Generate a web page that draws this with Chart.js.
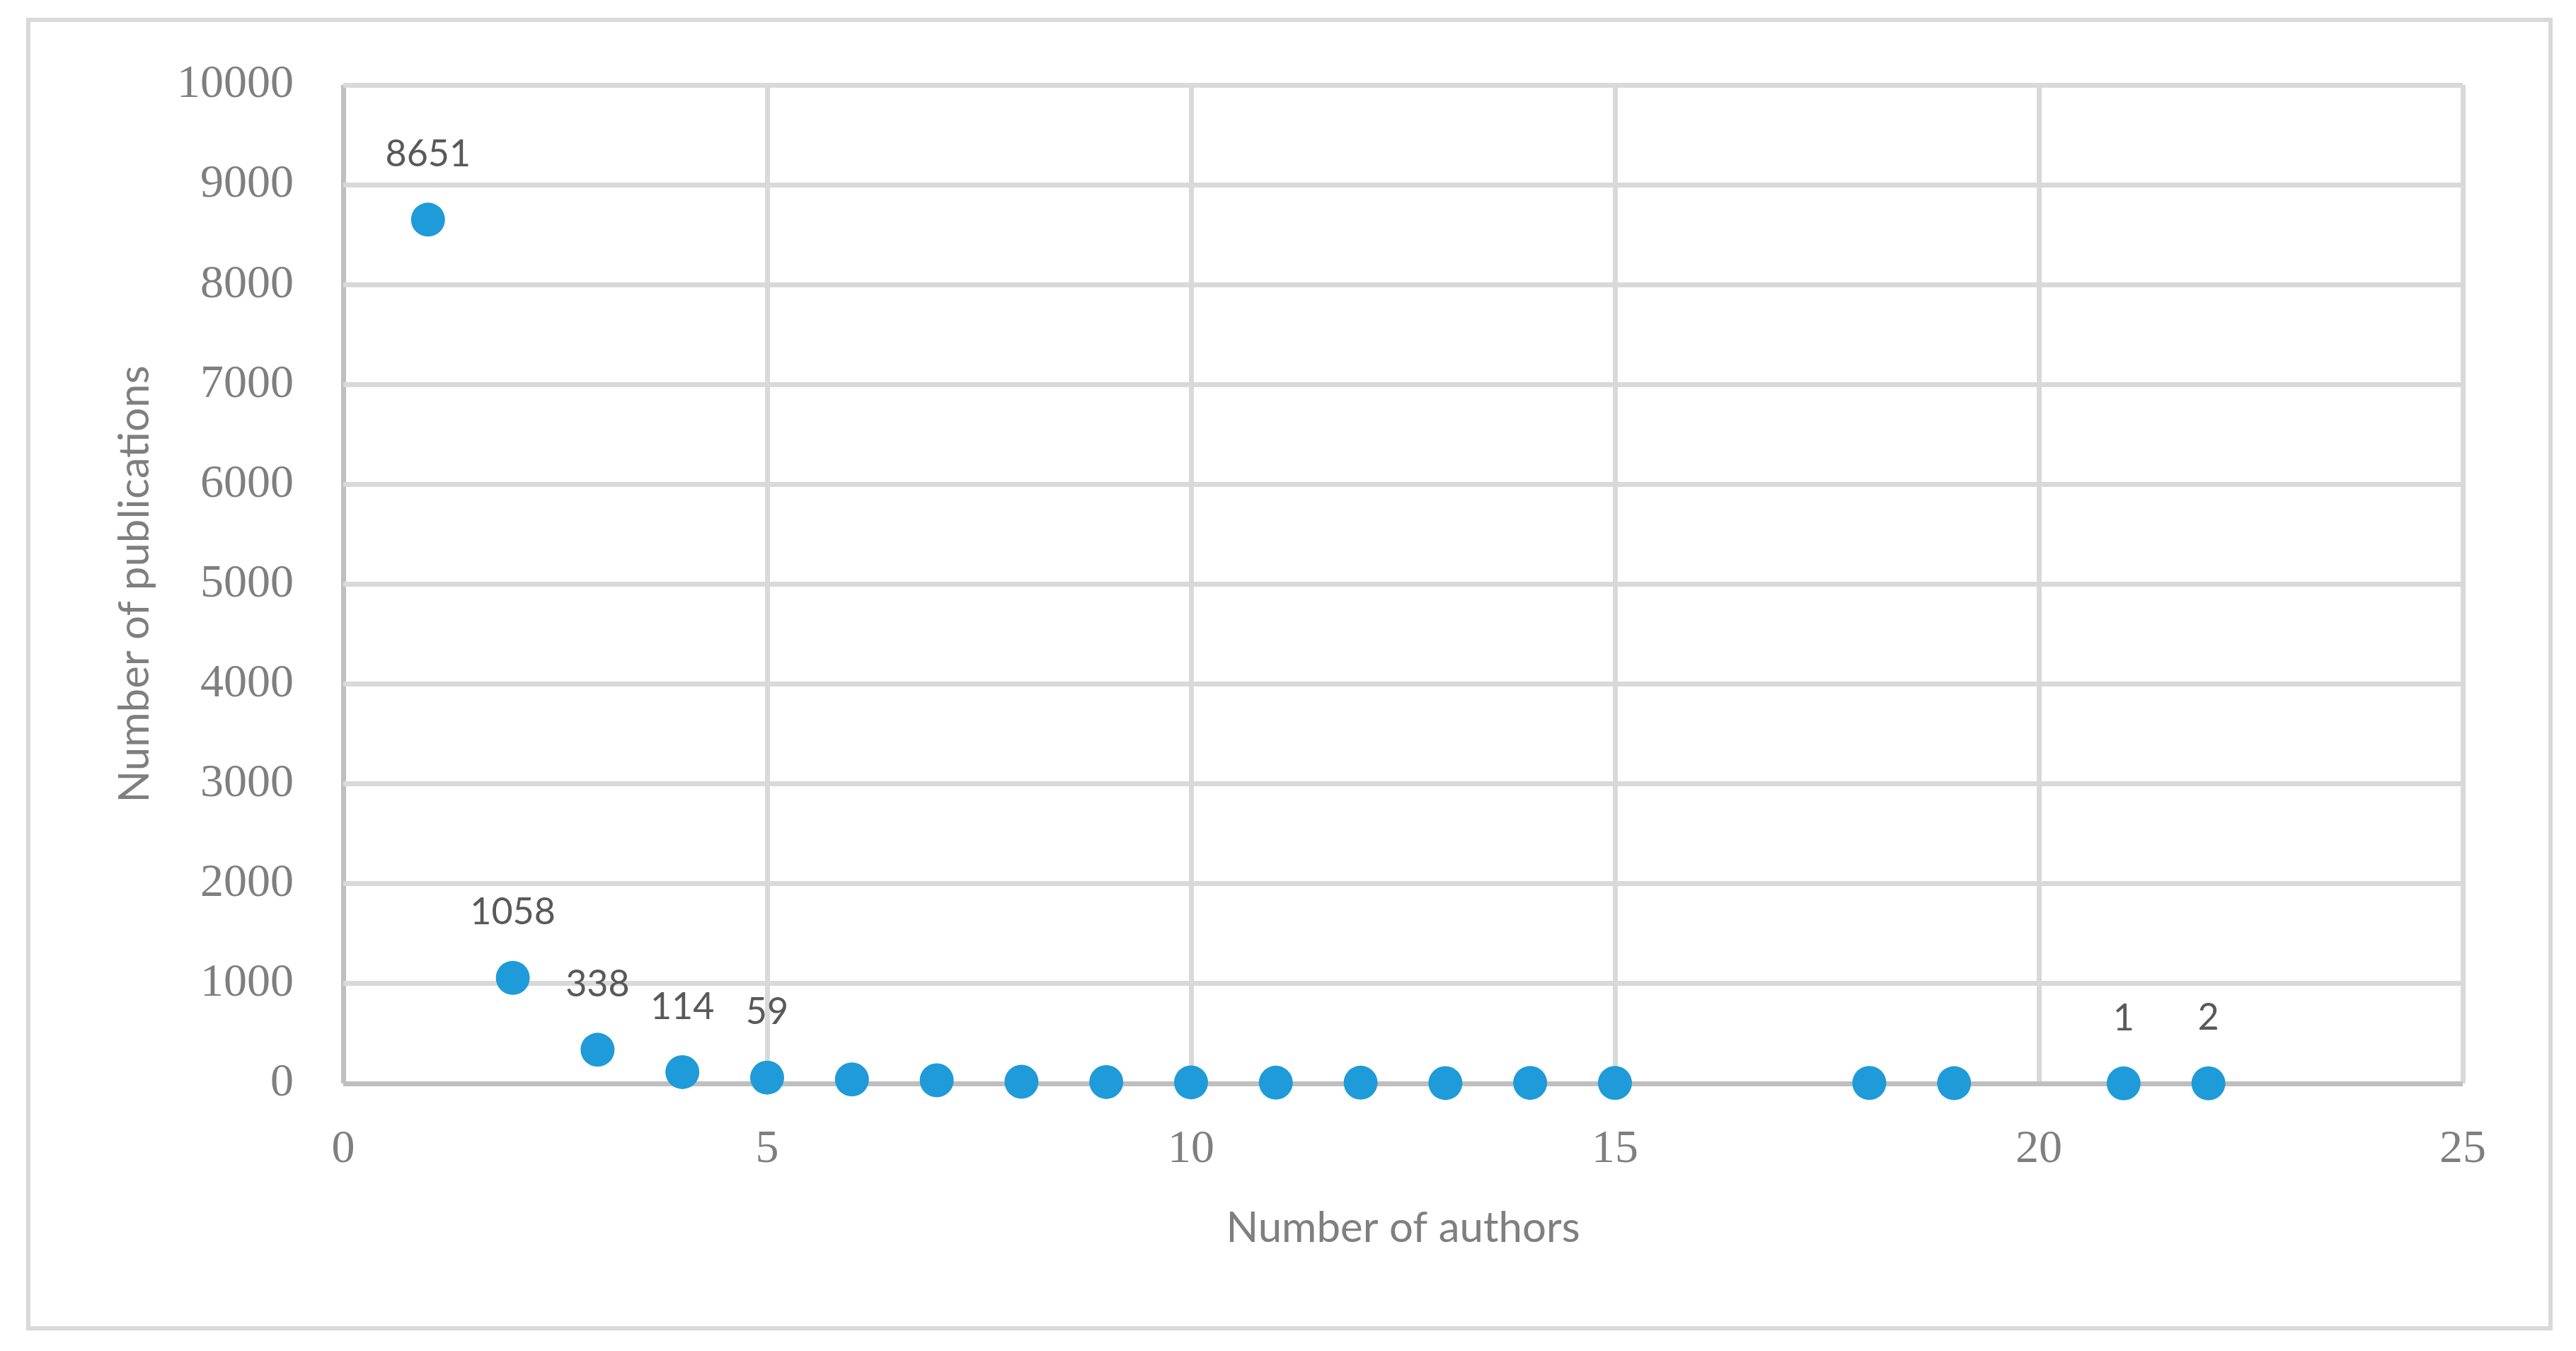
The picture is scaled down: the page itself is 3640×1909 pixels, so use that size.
<!DOCTYPE html>
<html>
<head>
<meta charset="utf-8">
<title>Number of publications by number of authors</title>
<script src="https://cdn.jsdelivr.net/npm/chart.js@4.4.1/dist/chart.umd.min.js"></script>
<style>
  html, body { margin: 0; padding: 0; background: #fff; }
  #chart { display: block; }
</style>
</head>
<body>
<canvas id="chart" width="3640" height="1909"></canvas>
<script>
// ---- data ----
const authorCounts = [1, 2, 3, 4, 5, 6, 7, 8, 9, 10, 11, 12, 13, 14, 15, 18, 19, 21, 22];
const publicationCounts = [8651, 1058, 338, 114, 59, 41, 32, 18, 15, 11, 8, 8, 4, 6, 5, 5, 3, 1, 2];
// only these points carry a value label in the original
const labeledAuthors = [1, 2, 3, 4, 5, 21, 22];

const xTitle = 'Number of authors';
const yTitle = 'Number of publications';
const xMin = 0, xMax = 25, xStep = 5;
const yMin = 0, yMax = 10000, yStep = 1000;

const gridColor = '#d9d9d9';
const axisColor = '#bfbfbf';
const textGray = '#7f7f7f';

// outer frame + white background
const framePlugin = {
  id: 'frame',
  beforeDraw(chart) {
    const ctx = chart.ctx;
    ctx.save();
    ctx.fillStyle = '#fff';
    ctx.fillRect(0, 0, chart.width, chart.height);
    ctx.strokeStyle = gridColor;
    ctx.lineWidth = 6;
    ctx.strokeRect(40, 28, 3564, 1849);
    ctx.restore();
  }
};

// value labels above selected points
const valueLabels = {
  id: 'valueLabels',
  afterDatasetsDraw(chart) {
    const ctx = chart.ctx;
    const meta = chart.getDatasetMeta(0);
    ctx.save();
    ctx.font = '52px Lato, "Open Sans", sans-serif';
    ctx.fillStyle = '#595959';
    ctx.textAlign = 'center';
    ctx.textBaseline = 'middle';
    meta.data.forEach((pt, i) => {
      if (!labeledAuthors.includes(authorCounts[i])) return;
      ctx.fillText(String(publicationCounts[i]), pt.x, pt.y - 92);
    });
    ctx.restore();
  }
};

const gridLineColor = c => (c.tick && c.tick.value === 0 ? axisColor : gridColor);
const plainNumber = v => String(v);

const ctx = document.getElementById('chart').getContext('2d');
new Chart(ctx, {
  type: 'scatter',
  data: {
    datasets: [{
      label: yTitle,
      data: authorCounts.map((a, i) => ({ x: a, y: publicationCounts[i] })),
      backgroundColor: '#1e9bd8',
      borderWidth: 0,
      pointRadius: 24,
      pointHoverRadius: 24,
      clip: false
    }]
  },
  options: {
    responsive: false,
    animation: false,
    devicePixelRatio: 1,
    layout: { padding: { left: 0, top: 120, right: 160, bottom: 0 } },
    plugins: {
      legend: { display: false },
      tooltip: { enabled: false }
    },
    scales: {
      x: {
        type: 'linear',
        min: xMin,
        max: xMax,
        afterFit: s => { s.height = 378; },
        border: { display: false },
        grid: { color: gridLineColor, lineWidth: 7, drawTicks: false },
        ticks: {
          stepSize: xStep,
          padding: 54,
          color: textGray,
          callback: plainNumber,
          font: { family: '"Liberation Serif", "DejaVu Serif", serif', size: 66 }
        },
        title: {
          display: true,
          text: xTitle,
          color: textGray,
          padding: { top: 0, bottom: 137 },
          font: { family: 'Lato, "Open Sans", sans-serif', size: 60 }
        }
      },
      y: {
        min: yMin,
        max: yMax,
        afterFit: s => { s.width = 485; },
        border: { display: false },
        grid: { color: gridLineColor, lineWidth: 7, drawTicks: false },
        ticks: {
          stepSize: yStep,
          padding: 70,
          color: textGray,
          callback: plainNumber,
          font: { family: '"Liberation Serif", "DejaVu Serif", serif', size: 66 }
        },
        title: {
          display: true,
          text: yTitle,
          color: textGray,
          padding: { top: 155, bottom: 0 },
          font: { family: 'Lato, "Open Sans", sans-serif', size: 60 }
        }
      }
    }
  },
  plugins: [framePlugin, valueLabels]
});
</script>
</body>
</html>
